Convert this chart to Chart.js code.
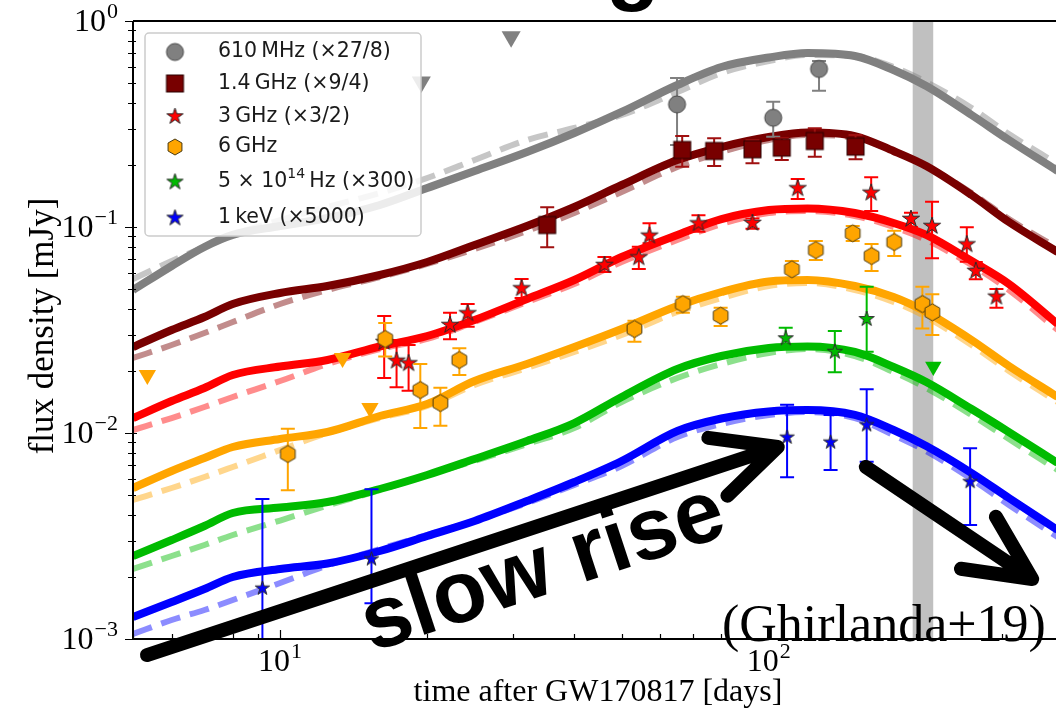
<!DOCTYPE html>
<html>
<head>
<meta charset="utf-8">
<title>Afterglow light curve</title>
<script src="https://cdn.jsdelivr.net/npm/chart.js@4.4.0/dist/chart.umd.min.js"></script>
<style>
  html, body { margin: 0; padding: 0; background: #fff; overflow: hidden; }
  #wrap { width: 1056px; height: 711px; }
</style>
</head>
<body>
<div id="wrap"><canvas id="lc" width="1056" height="711"></canvas></div>
<script>
// model curves, sampled in days after the merger
const modelTimes = [5, 6, 7, 8, 10, 12.5, 16, 20, 25, 32, 40, 50, 65, 80, 100, 120, 150, 180, 210, 260, 310, 390];

const solid610  = [0.0494, 0.0647, 0.0800, 0.0915, 0.1011, 0.1106, 0.1279, 0.1546, 0.1870, 0.2312, 0.2860, 0.3617, 0.4889, 0.5978, 0.6648, 0.6992, 0.6761, 0.5781, 0.4835, 0.3498, 0.2644, 0.1870];
const dashed610 = [0.0559, 0.0684, 0.0800, 0.0915, 0.1081, 0.1251, 0.1462, 0.1729, 0.2114, 0.2644, 0.3024, 0.3498, 0.4520, 0.5592, 0.6394, 0.6839, 0.6761, 0.5978, 0.5057, 0.3782, 0.2828, 0.2021];
const solid1p4  = [0.02615, 0.03162, 0.03657, 0.04228, 0.04782, 0.05171, 0.05848, 0.06763, 0.08176, 0.1011, 0.1251, 0.1599, 0.2114, 0.2445, 0.2735, 0.2875, 0.2764, 0.2338, 0.1977, 0.1430, 0.1057, 0.0756];
const dashed1p4 = [0.02312, 0.02674, 0.03058, 0.03458, 0.04228, 0.04945, 0.05719, 0.06614, 0.07819, 0.09563, 0.1169, 0.1479, 0.1956, 0.2312, 0.2644, 0.2796, 0.2704, 0.2338, 0.1977, 0.1462, 0.1093, 0.0791];
const solid3    = [0.01182, 0.01430, 0.01653, 0.01912, 0.02102, 0.02262, 0.02630, 0.02957, 0.03536, 0.04472, 0.05530, 0.07151, 0.0915, 0.1093, 0.1209, 0.1230, 0.1169, 0.1046, 0.0915, 0.0684, 0.05287, 0.03381];
const dashed3   = [0.01034, 0.01182, 0.01337, 0.01496, 0.01788, 0.02163, 0.02558, 0.02860, 0.03458, 0.04325, 0.05287, 0.06763, 0.08648, 0.1034, 0.1169, 0.1196, 0.1131, 0.1000, 0.08648, 0.06538, 0.04945, 0.03162];
const solid6    = [0.005408, 0.006539, 0.007560, 0.008551, 0.009352, 0.01011, 0.01209, 0.01383, 0.01788, 0.02163, 0.02615, 0.03198, 0.04135, 0.04836, 0.05438, 0.05530, 0.05171, 0.04573, 0.03867, 0.02828, 0.02114, 0.01496];
const dashed6   = [0.004729, 0.005408, 0.006114, 0.006839, 0.008271, 0.01000, 0.01182, 0.01352, 0.01710, 0.02068, 0.02473, 0.02990, 0.03867, 0.04521, 0.05171, 0.05348, 0.04945, 0.04325, 0.03657, 0.02674, 0.02000, 0.01414];
const solidOpt  = [0.002528, 0.003024, 0.003536, 0.004090, 0.004347, 0.004624, 0.005348, 0.006254, 0.007477, 0.009146, 0.01118, 0.01496, 0.02045, 0.02365, 0.02586, 0.02630, 0.02473, 0.02091, 0.01768, 0.01308, 0.01011, 0.007151];
const dashedOpt = [0.002187, 0.002528, 0.002860, 0.003198, 0.003760, 0.004446, 0.005287, 0.006254, 0.007312, 0.008842, 0.01057, 0.01414, 0.01849, 0.02163, 0.02445, 0.02558, 0.02365, 0.01977, 0.01653, 0.01223, 0.009352, 0.006614];
const solidX    = [0.001279, 0.001512, 0.001748, 0.002000, 0.002187, 0.002325, 0.002674, 0.003162, 0.003740, 0.004677, 0.005781, 0.007312, 0.01023, 0.01176, 0.01272, 0.01293, 0.01223, 0.01034, 0.008648, 0.006394, 0.004835, 0.003381];
const dashedX   = [0.001057, 0.001237, 0.001383, 0.001546, 0.001870, 0.002274, 0.002735, 0.003198, 0.003740, 0.004573, 0.005592, 0.006915, 0.009563, 0.01106, 0.01223, 0.01264, 0.01182, 0.009779, 0.008176, 0.005978, 0.004472, 0.003127];

// detections (already multiplied by the legend factors), with 1-sigma bounds
const t610  = [64.9, 102.1, 126.7];
const f610  = [0.394, 0.339, 0.585];
const lo610 = [0.25, 0.274, 0.459];
const hi610 = [0.529, 0.406, 0.639];
const ulT610 = [19.45, 29.7];
const ulF610 = [0.506, 0.839];

const t1p4  = [35.2, 66.5, 77.3, 92.6, 106.3, 124.2, 150.5];
const f1p4  = [0.1022, 0.2365, 0.2339, 0.2384, 0.2427, 0.2615, 0.2454];
const lo1p4 = [0.0797, 0.1962, 0.1978, 0.2038, 0.2114, 0.2194, 0.2131];
const hi1p4 = [0.1246, 0.2765, 0.2696, 0.2645, 0.2696, 0.3013, 0.2796];

const t3  = [16.33, 17.31, 18.32, 22.27, 24.2, 31.2, 46.1, 54.2, 57.0, 71.8, 92.6, 114.6, 162.0, 195.4, 215.8, 254.2, 265.2, 292.3];
const f3  = [0.02765, 0.02244, 0.0218, 0.03344, 0.03811, 0.05041, 0.06538, 0.07126, 0.0908, 0.1042, 0.1046, 0.1542, 0.1467, 0.1094, 0.1011, 0.0824, 0.0612, 0.0459];
const lo3 = [0.01849, 0.01667, 0.01604, 0.0285, 0.0328, 0.04521, 0.0605, 0.0625, 0.0833, 0.0949, 0.098, 0.1367, 0.1196, 0.100, 0.0705, 0.0679, 0.0557, 0.0406];
const hi3 = [0.03698, 0.02828, 0.02674, 0.03837, 0.04228, 0.05593, 0.0715, 0.0802, 0.1042, 0.114, 0.110, 0.171, 0.1743, 0.1173, 0.1327, 0.0997, 0.0676, 0.050];

const t6  = [10.37, 16.41, 19.36, 21.28, 23.27, 53.1, 66.7, 79.7, 111.5, 124.8, 148.5, 162.3, 180.6, 206.2, 216.1];
const f6  = [0.00791, 0.0286, 0.01617, 0.01398, 0.02262, 0.03197, 0.04228, 0.0371, 0.06233, 0.07733, 0.09319, 0.07231, 0.08456, 0.04228, 0.03854];
const lo6 = [0.00527, 0.0235, 0.01057, 0.01085, 0.01912, 0.02774, 0.03837, 0.03306, 0.05674, 0.06916, 0.0855, 0.0612, 0.0723, 0.0322, 0.0299];
const hi6 = [0.0105, 0.0342, 0.02163, 0.0166, 0.02577, 0.0351, 0.04588, 0.04058, 0.06839, 0.0855, 0.1011, 0.0827, 0.0959, 0.0513, 0.04713];
const ulT6 = [5.35, 13.42, 15.27];
const ulF6 = [0.01912, 0.02312, 0.01322];

const tOpt  = [108.3, 136.5, 158.6];
const fOpt  = [0.02883, 0.02481, 0.03575];
const loOpt = [0.02577, 0.0197, 0.02481];
const hiOpt = [0.03245, 0.03127, 0.0513];
const ulTOpt = [217.1];
const ulFOpt = [0.021];

const tX  = [9.20, 15.38, 109.0, 133.8, 158.6, 258.2];
const fX  = [0.001763, 0.002445, 0.00953, 0.00902, 0.01094, 0.0058];
const loX = [0.0005, 0.00149, 0.0061, 0.00661, 0.00726, 0.00358];
const hiX = [0.004781, 0.00533, 0.01372, 0.01223, 0.0163, 0.00843];

// shaded epoch (days)
const bandDays = [197, 217];

const legendLabels = [
  '610\u2009MHz (\u00d727/8)',
  '1.4\u2009GHz (\u00d79/4)',
  '3\u2009GHz (\u00d73/2)',
  '6\u2009GHz',
  '5 \u00d7 10^14\u2009Hz (\u00d7300)',
  '1\u2009keV (\u00d75000)'
];

const colGrey = '#808080';
const colMaroon = '#780000';
const colRed = '#ff0000';
const colOrange = '#ffa500';
const colGreen = '#00bb00';
const colBlue = '#0000ff';

function fade(hex, a) {
  const n = parseInt(hex.slice(1), 16);
  return `rgba(${n >> 16}, ${(n >> 8) & 255}, ${n & 255}, ${a})`;
}

// marker sprites
function sprite(r, drawFn) {
  const c = document.createElement('canvas');
  c.width = c.height = Math.ceil(2 * r + 4);
  const g = c.getContext('2d');
  g.translate(c.width / 2, c.height / 2);
  drawFn(g, r);
  return c;
}

function starSprite(color, r) {
  return sprite(r, (g, R) => {
    g.beginPath();
    for (let i = 0; i < 10; i++) {
      const rr = i % 2 === 0 ? R : R * 0.382;
      const ang = -Math.PI / 2 + i * Math.PI / 5;
      g.lineTo(rr * Math.cos(ang), rr * Math.sin(ang));
    }
    g.closePath();
    g.fillStyle = color;
    g.fill();
    g.lineWidth = 1;
    g.strokeStyle = '#2a2a2a';
    g.stroke();
  });
}

function hexSprite(color, r) {
  return sprite(r, (g, R) => {
    g.beginPath();
    for (let i = 0; i < 6; i++) {
      const ang = -Math.PI / 2 + i * Math.PI / 3;
      g.lineTo(R * Math.cos(ang), R * Math.sin(ang));
    }
    g.closePath();
    g.fillStyle = color;
    g.fill();
    g.lineWidth = 1;
    g.strokeStyle = '#4a3a10';
    g.stroke();
  });
}

function circleSprite(color, r) {
  return sprite(r, (g, R) => {
    g.beginPath();
    g.arc(0, 0, R, 0, Math.PI * 2);
    g.fillStyle = color;
    g.fill();
    g.lineWidth = 1;
    g.strokeStyle = '#444';
    g.stroke();
  });
}

function squareSprite(color, r) {
  return sprite(r, (g, R) => {
    g.fillStyle = color;
    g.fillRect(-R, -R, 2 * R, 2 * R);
    g.lineWidth = 1;
    g.strokeStyle = '#2a0000';
    g.strokeRect(-R, -R, 2 * R, 2 * R);
  });
}

const mk610 = circleSprite(colGrey, 8.5);
const mk1p4 = squareSprite(colMaroon, 8.5);
const mk3 = starSprite(colRed, 9);
const mk6 = hexSprite(colOrange, 8.5);
const mkOpt = starSprite(colGreen, 8);
const mkX = starSprite(colBlue, 7.5);
const legendMarks = [mk610, mk1p4, starSprite(colRed, 8.5), hexSprite(colOrange, 8), starSprite(colGreen, 8.5), starSprite(colBlue, 8.5)];

function curve(ys, color, dashed) {
  return {
    data: modelTimes.map((t, i) => ({ x: t, y: ys[i] })),
    showLine: true,
    borderColor: dashed ? fade(color, 0.45) : color,
    borderWidth: dashed ? 6 : 8,
    borderDash: dashed ? [20, 10] : [],
    borderCapStyle: 'butt',
    pointRadius: 0,
    cubicInterpolationMode: 'monotone',
    order: dashed ? 30 : 20
  };
}

function points(ts, fs, lo, hi, sprite, color, order) {
  return {
    data: ts.map((t, i) => ({ x: t, y: fs[i] })),
    pointStyle: sprite,
    pointRadius: 6,
    errLo: lo,
    errHi: hi,
    errColor: color,
    order: order
  };
}

function limits(ts, fs, color, r, order) {
  return {
    data: ts.map((t, i) => ({ x: t, y: fs[i] })),
    pointStyle: 'triangle',
    rotation: 180,
    pointRadius: r,
    backgroundColor: color,
    borderWidth: 0,
    order: order
  };
}

const datasets = [
  curve(solid610, colGrey, false), curve(dashed610, colGrey, true),
  curve(solid1p4, colMaroon, false), curve(dashed1p4, colMaroon, true),
  curve(solid3, colRed, false), curve(dashed3, colRed, true),
  curve(solid6, colOrange, false), curve(dashed6, colOrange, true),
  curve(solidOpt, colGreen, false), curve(dashedOpt, colGreen, true),
  curve(solidX, colBlue, false), curve(dashedX, colBlue, true),
  points(t610, f610, lo610, hi610, mk610, colGrey, 6),
  limits(ulT610, ulF610, colGrey, 11, 6),
  points(t1p4, f1p4, lo1p4, hi1p4, mk1p4, '#a01010', 5),
  points(t3, f3, lo3, hi3, mk3, colRed, 4),
  points(t6, f6, lo6, hi6, mk6, colOrange, 3),
  limits(ulT6, ulF6, colOrange, 10, 3),
  points(tOpt, fOpt, loOpt, hiOpt, mkOpt, colGreen, 2),
  limits(ulTOpt, ulFOpt, colGreen, 9.5, 2),
  points(tX, fX, loX, hiX, mkX, colBlue, 1)
];

const serif = '"Liberation Serif", "Times New Roman", serif';
const sans = '"DejaVu Sans", sans-serif';

// "10" with a raised exponent, as used on both axes
function powerLabel(ctx, exp, x, y, align) {
  ctx.font = `32px ${serif}`;
  const wb = ctx.measureText('10').width;
  ctx.font = `22px ${serif}`;
  const we = ctx.measureText(exp).width;
  const total = wb + 1 + we;
  const x0 = align === 'right' ? x - total : x - total / 2;
  ctx.textAlign = 'left';
  ctx.textBaseline = 'alphabetic';
  ctx.font = `32px ${serif}`;
  ctx.fillText('10', x0, y);
  ctx.font = `22px ${serif}`;
  ctx.fillText(exp, x0 + wb + 1, y - 13);
}

function arrow(ctx, from, to, head, spread) {
  const ang = Math.atan2(to[1] - from[1], to[0] - from[0]);
  ctx.beginPath();
  ctx.moveTo(from[0], from[1]);
  ctx.lineTo(to[0], to[1]);
  ctx.moveTo(to[0] - head * Math.cos(ang - spread), to[1] - head * Math.sin(ang - spread));
  ctx.lineTo(to[0], to[1]);
  ctx.lineTo(to[0] - head * Math.cos(ang + spread), to[1] - head * Math.sin(ang + spread));
  ctx.stroke();
}

const decor = {
  id: 'decor',
  beforeDatasetsDraw(chart) {
    const { ctx, chartArea: a, scales: { x } } = chart;
    const x0 = x.getPixelForValue(bandDays[0]);
    const x1 = x.getPixelForValue(bandDays[1]);
    ctx.save();
    ctx.fillStyle = '#c0c0c0';
    ctx.fillRect(x0, a.top, x1 - x0, a.bottom - a.top);
    ctx.restore();
  },
  beforeDatasetDraw(chart, args) {
    const ds = chart.data.datasets[args.index];
    if (!ds.errLo) return;
    const { ctx, chartArea: a, scales: { x, y } } = chart;
    ctx.save();
    ctx.beginPath();
    ctx.rect(a.left, a.top, a.right - a.left, a.bottom - a.top);
    ctx.clip();
    ctx.strokeStyle = ds.errColor;
    ctx.lineWidth = 2;
    ds.data.forEach((p, i) => {
      const px = x.getPixelForValue(p.x);
      const yl = y.getPixelForValue(ds.errLo[i]);
      const yh = y.getPixelForValue(ds.errHi[i]);
      ctx.beginPath();
      ctx.moveTo(px, yl); ctx.lineTo(px, yh);
      ctx.moveTo(px - 7, yl); ctx.lineTo(px + 7, yl);
      ctx.moveTo(px - 7, yh); ctx.lineTo(px + 7, yh);
      ctx.stroke();
    });
    ctx.restore();
  },
  afterDraw(chart) {
    const { ctx, chartArea: a, scales: { x, y } } = chart;
    ctx.save();

    // spines
    ctx.strokeStyle = '#000';
    ctx.lineWidth = 2;
    ctx.beginPath();
    ctx.moveTo(a.left, a.top); ctx.lineTo(a.right, a.top);
    ctx.moveTo(a.left, a.top); ctx.lineTo(a.left, a.bottom);
    ctx.lineTo(a.right, a.bottom);
    ctx.stroke();

    // tick marks
    ctx.lineWidth = 1.2;
    ctx.beginPath();
    for (let d = 1; d <= 1000; d *= 10) {
      for (let m = 1; m <= 9; m++) {
        const v = d * m;
        if (v < x.min || v > x.max) continue;
        const px = Math.round(x.getPixelForValue(v)) + 0.5;
        const len = m === 1 ? 9 : 5;
        ctx.moveTo(px, a.bottom); ctx.lineTo(px, a.bottom - len);
      }
    }
    for (let d = 0.001; d < 1.5; d *= 10) {
      for (let m = 1; m <= 9; m++) {
        const v = d * m;
        if (v > 1.0001) continue;
        const py = Math.round(y.getPixelForValue(v)) + 0.5;
        if (m === 1) { ctx.moveTo(a.left - 8, py); ctx.lineTo(a.left + 4, py); }
        else { ctx.moveTo(a.left - 5, py); ctx.lineTo(a.left + 3, py); }
      }
    }
    ctx.stroke();

    // tick labels
    ctx.fillStyle = '#000';
    [[10, '1'], [100, '2']].forEach(([v, e]) => powerLabel(ctx, e, x.getPixelForValue(v), 671, 'center'));
    [[1, '0'], [0.1, '\u22121'], [0.01, '\u22122'], [0.001, '\u22123']].forEach(([v, e]) =>
      powerLabel(ctx, e, 118, y.getPixelForValue(v) + 10, 'right'));

    // axis titles
    ctx.textAlign = 'center';
    ctx.textBaseline = 'alphabetic';
    ctx.font = `32px ${serif}`;
    ctx.fillText('time after GW170817 [days]', 598, 701);
    ctx.save();
    ctx.translate(53, 326);
    ctx.rotate(-Math.PI / 2);
    ctx.font = `35px ${serif}`;
    ctx.fillText('flux density [mJy]', 0, 0);
    ctx.restore();

    // legend
    ctx.fillStyle = 'rgba(255,255,255,0.85)';
    ctx.strokeStyle = '#cccccc';
    ctx.lineWidth = 1.5;
    ctx.beginPath();
    ctx.roundRect(145, 33, 276, 203, 4);
    ctx.fill();
    ctx.stroke();
    const rows = [52, 83.5, 116.5, 147, 182, 218];
    ctx.fillStyle = '#1a1a1a';
    legendLabels.forEach((lab, i) => {
      const mk = legendMarks[i];
      ctx.drawImage(mk, 175 - mk.width / 2, rows[i] - mk.height / 2);
      const parts = lab.split(/\^(\d+)/);
      let tx = 218;
      ctx.textAlign = 'left';
      ctx.textBaseline = 'middle';
      parts.forEach((s, k) => {
        if (k % 2 === 1) {
          ctx.font = `14px ${sans}`;
          ctx.fillText(s, tx, rows[i] - 8);
        } else {
          ctx.font = `20.5px ${sans}`;
          ctx.fillText(s, tx, rows[i]);
        }
        tx += ctx.measureText(s).width;
      });
    });

    // annotations
    ctx.strokeStyle = '#000';
    ctx.lineWidth = 14;
    ctx.lineCap = 'round';
    ctx.lineJoin = 'round';
    const p = (t, f) => [x.getPixelForValue(t), y.getPixelForValue(f)];
    arrow(ctx, p(5.34, 0.000836), p(104.3, 0.00855), 70, 0.45);
    arrow(ctx, p(158.0, 0.00684), p(345.9, 0.001956), 72, 0.45);

    ctx.fillStyle = '#000';
    ctx.save();
    ctx.translate(372, 652);
    ctx.rotate(-0.318);
    ctx.font = 'bold 88px "Liberation Sans", Arial, sans-serif';
    ctx.textAlign = 'left';
    ctx.textBaseline = 'alphabetic';
    ctx.fillText('slow rise', 0, 0);
    ctx.restore();

    ctx.font = 'bold 88px "Liberation Sans", Arial, sans-serif';
    ctx.textAlign = 'center';
    ctx.fillText('g', 633, -30);

    ctx.font = `52px ${serif}`;
    ctx.textAlign = 'left';
    ctx.fillText('(Ghirlanda+19)', 722, 627);
    ctx.restore();
  }
};

new Chart(document.getElementById('lc'), {
  type: 'scatter',
  data: { datasets },
  options: {
    responsive: false,
    devicePixelRatio: 1,
    animation: false,
    layout: { autoPadding: false, padding: { left: 133, top: 21, right: 0, bottom: 72 } },
    plugins: { legend: { display: false }, tooltip: { enabled: false } },
    scales: {
      x: { type: 'logarithmic', min: 5, max: 387, display: false },
      y: { type: 'logarithmic', min: 0.001, max: 1, display: false }
    }
  },
  plugins: [decor]
});
</script>
</body>
</html>
